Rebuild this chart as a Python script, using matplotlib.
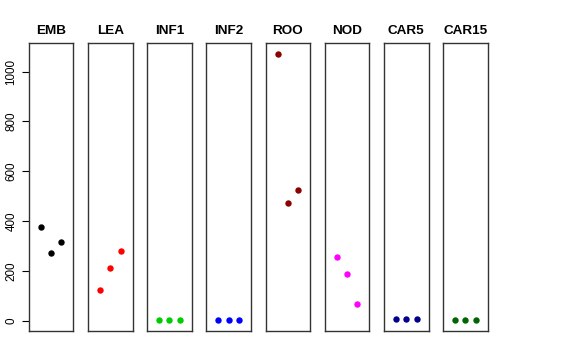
import numpy as np
import matplotlib.pyplot as plt

plt.rcParams['font.family'] = ['Liberation Sans', 'DejaVu Sans']

# tissues and their three replicate values
tissues = ['EMB', 'LEA', 'INF1', 'INF2', 'ROO', 'NOD', 'CAR5', 'CAR15']
EMB = [376, 273, 316]
LEA = [123, 212, 281]
INF1 = [1, 1, 1]
INF2 = [1, 1, 1]
ROO = [1072, 472, 523]
NOD = [254, 187, 66]
CAR5 = [5, 5, 5]
CAR15 = [2, 2, 2]
values = [EMB, LEA, INF1, INF2, ROO, NOD, CAR5, CAR15]
colors = ['black', 'red', '#00CD00', 'blue', '#8B0000', 'magenta', '#00008B', '#006400']
yticks = [0, 200, 400, 600, 800, 1000]

W, H = 576, 360
fig = plt.figure(figsize=(W / 100, H / 100), dpi=100)

ymax = max(max(v) for v in values)
ylim = (-0.04 * ymax, ymax * 1.04)

x0, step, pw = 28.7, 59.2, 44.7
top, bot = 43, 331.3
for i, (name, vals, col) in enumerate(zip(tissues, values, colors)):
    left = x0 + i * step
    ax = fig.add_axes([left / W, (H - bot) / H, pw / W, (bot - top) / H])
    ax.plot([1, 2, 3], vals, 'o', color=col, markersize=4.6, markeredgewidth=0)
    ax.set_xlim(-0.16, 4.16)
    ax.set_ylim(*ylim)
    ax.set_xticks([])
    for s in ax.spines.values():
        s.set_linewidth(1.0)
        s.set_color('#333333')
    ax.set_title(name, fontsize=9.7, fontweight='bold', pad=6.5)
    if i == 0:
        ax.set_yticks(yticks)
        ax.set_yticklabels([str(t) for t in yticks], rotation=90, va='center', fontsize=8.4)
        ax.tick_params(axis='y', length=5, width=0.8, pad=3)
    else:
        ax.set_yticks([])

fig.savefig('out.png', dpi=100)
